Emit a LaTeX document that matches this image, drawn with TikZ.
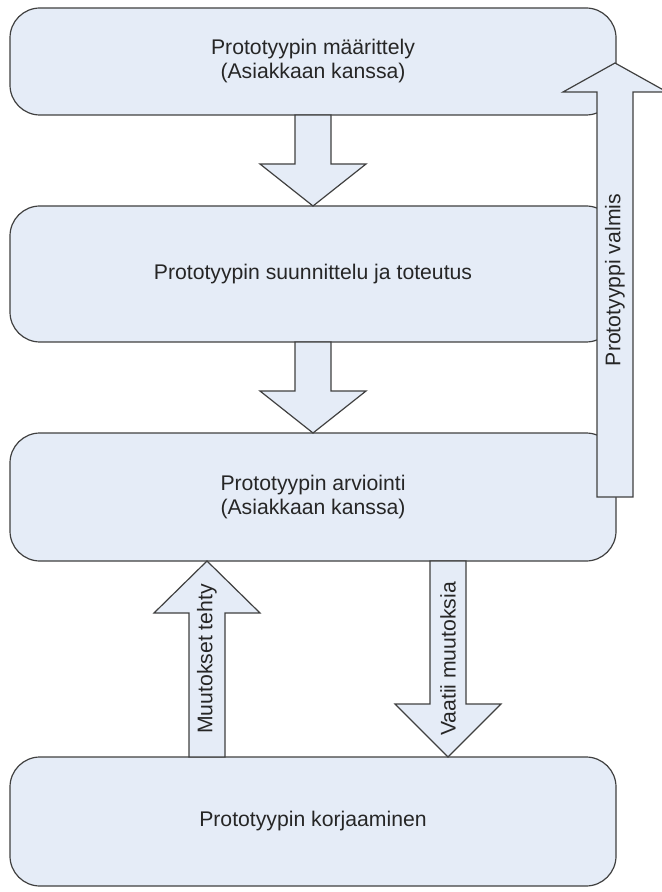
\documentclass[tikz,border=0pt]{standalone}
\usepackage{fontspec}
\setmainfont{Liberation Sans}
\usetikzlibrary{calc}
\definecolor{boxfill}{RGB}{229,236,247}
\definecolor{boxline}{RGB}{64,64,64}
% block arrow: tail, tip, signed head length, head half width
\newcommand{\blockarrow}[4]{%
  \draw[arrowbody] ($(#1)+(-18,0)$) -- ($(#2)+(-18,#3)$) -- ($(#2)+(-#4,#3)$) -- (#2) %
    -- ($(#2)+(#4,#3)$) -- ($(#2)+(18,#3)$) -- ($(#1)+(18,0)$) -- cycle ;}
\begin{document}
\begin{tikzpicture}[x=0.5pt,y=-0.5pt,
    phase/.style={draw=boxline,fill=boxfill,line width=0.6pt,rounded corners=15pt,%
      minimum width=303pt,inner sep=0pt,outer sep=0pt,align=center,text=black!85,%
      font=\fontsize{10.6}{12}\selectfont},
    arrowbody/.style={draw=boxline,fill=boxfill,line width=0.6pt,line join=miter},
    arrowtext/.style={rotate=90,text=black!85,font=\fontsize{10.6}{12}\selectfont}]
      \useasboundingbox (0,0) rectangle (661,892) ;
      \node[phase,minimum height=53.5pt] (maarittely) at (313,61.5) %
        {Prototyypin määrittely\\(Asiakkaan kanssa)} ;
      \node[phase,minimum height=68pt] (suunnittelu) at (313,274) %
        {Prototyypin suunnittelu ja toteutus} ;
      \node[phase,minimum height=64pt] (arviointi) at (313,497) %
        {Prototyypin arviointi\\(Asiakkaan kanssa)} ;
      \node[phase,minimum height=64.5pt] (korjaus) at (313,821.5) %
        {Prototyypin korjaaminen} ;
      \coordinate (valmisA) at (615,497) ;
      \coordinate (valmisB) at (615,63) ;
      \coordinate (tehtyA) at ($(korjaus.north)+(-106,0)$) ;
      \coordinate (tehtyB) at ($(arviointi.south)+(-106,0)$) ;
      \coordinate (vaatiiA) at ($(arviointi.south)+(135,0)$) ;
      \coordinate (vaatiiB) at ($(korjaus.north)+(135,0)$) ;
      \blockarrow{maarittely.south}{suunnittelu.north}{-42}{53}
      \blockarrow{suunnittelu.south}{arviointi.north}{-42}{53}
      \blockarrow{valmisA}{valmisB}{29}{52}
      \blockarrow{tehtyA}{tehtyB}{52}{53}
      \blockarrow{vaatiiA}{vaatiiB}{-53}{53}
      \path (valmisA) -- (valmisB) node[midway,arrowtext] (valmis) {Prototyyppi valmis} ;
      \path (tehtyA) -- (tehtyB) node[midway,arrowtext] (tehty) {Muutokset tehty} ;
      \path (vaatiiA) -- (vaatiiB) node[midway,arrowtext] (vaatii) {Vaatii muutoksia} ;
    \end{tikzpicture}
\end{document}
